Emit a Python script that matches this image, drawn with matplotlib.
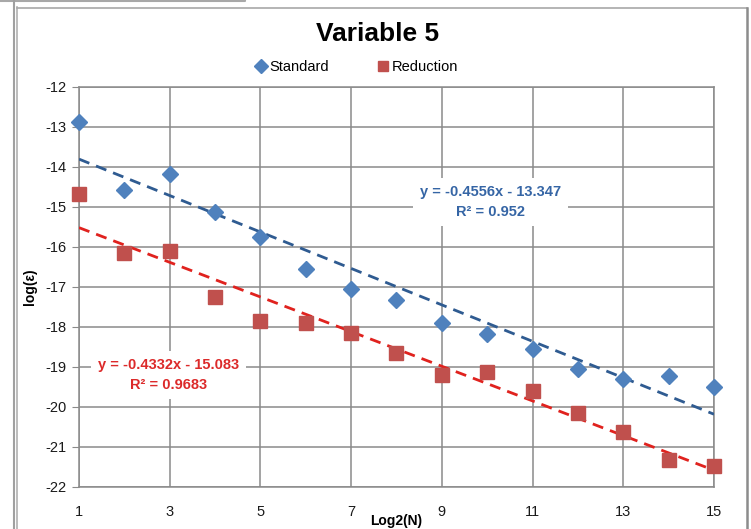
import numpy as np
import matplotlib
matplotlib.use("Agg")
import matplotlib.pyplot as plt
from matplotlib.lines import Line2D

plt.rcParams['font.family'] = ['Liberation Sans', 'DejaVu Sans']
plt.rcParams['axes.unicode_minus'] = False

# log2(N) and log(eps) for both runs
x_vals = [1, 2, 3, 4, 5, 6, 7, 8, 9, 10, 11, 12, 13, 14, 15]
standard = [-12.88, -14.58, -14.18, -15.13, -15.75, -16.54, -17.05, -17.32,
            -17.9, -18.18, -18.55, -19.04, -19.3, -19.23, -19.49]
reduction = [-14.68, -16.16, -16.09, -17.24, -17.85, -17.9, -18.16, -18.64,
             -19.19, -19.12, -19.59, -20.14, -20.62, -21.33, -21.47]

# linear trendlines
std_slope, std_icpt, std_r2 = -0.4556, -13.347, 0.952
red_slope, red_icpt, red_r2 = -0.4332, -15.083, 0.9683

blue = '#4F81BD'
red = '#C0504D'
blue_trend = '#2F5B91'
red_trend = '#E0221E'
grid_col = '#8A8A8A'

fig = plt.figure(figsize=(7.51, 5.29), dpi=100)
ax = fig.add_axes([79/751, 1-487/529, 635/751, 400/529])

ax.plot(x_vals, standard, 'D', color=blue, ms=8.5, mec=blue, zorder=4, clip_on=False, label='Standard')
ax.plot(x_vals, reduction, 's', color=red, ms=9.5, mec=red, zorder=4, clip_on=False, label='Reduction')

xt = np.array([x_vals[0], x_vals[-1]])
ax.plot(xt, std_slope*xt + std_icpt, '--', color=blue_trend, lw=2, dashes=(4, 2.6), zorder=3)
ax.plot(xt, red_slope*xt + red_icpt, '--', color=red_trend, lw=2, dashes=(4, 2.6), zorder=3)

ax.set_xlim(1, 15)
ax.set_ylim(-22, -12)
ax.set_xticks(range(1, 16, 2))
ax.set_yticks(range(-22, -11))
ax.grid(True, color=grid_col, lw=1.1)
ax.set_axisbelow(True)
for s in ax.spines.values():
    s.set_color(grid_col)
    s.set_linewidth(1.1)
ax.tick_params(axis='y', length=5, color=grid_col, labelsize=10.5, pad=4, labelcolor='#1a1a1a')
ax.tick_params(axis='x', length=0, labelsize=10.5, pad=13, labelcolor='#1a1a1a')

ax.set_ylabel('log(ε)', fontsize=10, fontweight='bold', va='center')
ax.yaxis.set_label_coords(-0.077, 0.5)
ax.set_xlabel('Log2(N)', fontsize=10, fontweight='bold', va='center')
ax.xaxis.set_label_coords(0.5, -0.085)

fig.text(0.503, 1-34/529, 'Variable 5', ha='center', va='center', fontsize=19, fontweight='bold')

ax.legend(loc='center', bbox_to_anchor=(356/751, 1-67/529), bbox_transform=fig.transFigure,
          ncol=2, frameon=False, fontsize=10.5, handletextpad=0.1, columnspacing=3.2,
          handlelength=1.0, markerscale=0.8)

box = dict(facecolor='white', edgecolor='none', pad=5)
ax.text(10.08, -14.88, f'y = {std_slope}x - {abs(std_icpt)}\nR² = {std_r2}', ha='center', va='center',
        color='#3565A5', fontsize=10.5, fontweight='bold', linespacing=1.55, bbox=box, zorder=5)
ax.text(2.98, -19.19, f'y = {red_slope}x - {abs(red_icpt)}\nR² = {red_r2}', ha='center', va='center',
        color='#DC2A2A', fontsize=10.5, fontweight='bold', linespacing=1.55, bbox=box, zorder=5)

# window frame around the chart
def fline(xs, ys, c, lw):
    fig.add_artist(Line2D([v/751 for v in xs], [1-v/529 for v in ys], color=c, lw=lw))

fline([0, 245, 245], [1, 1, -1], '#A8A8A8', 1.5)
fline([14, 14], [0, 529], '#A0A0A0', 1.5)
fline([17, 17], [7, 529], '#B0B0B0', 1.2)
fline([17, 747], [7.5, 7.5], '#A8A8A8', 1.2)
fline([747, 747], [7.5, 529], '#8C8C8C', 1.8)

fig.savefig('out.png', dpi=100)
